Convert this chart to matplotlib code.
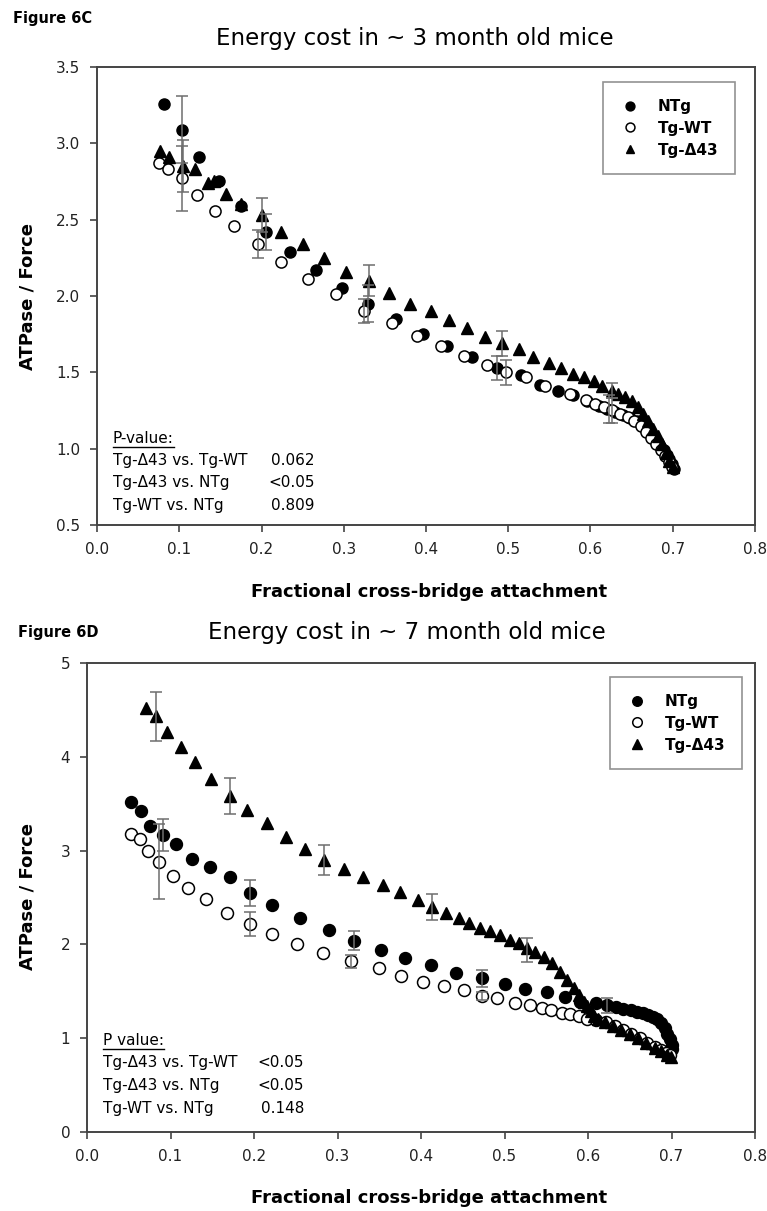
import matplotlib
matplotlib.use("Agg")
import matplotlib.pyplot as plt
from matplotlib.lines import Line2D

plt.rcParams['font.family'] = ['DejaVu Sans']

# ---------------- Figure 6C : ~3 month old mice ----------------
c_ntg_x = [0.082, 0.103, 0.124, 0.148, 0.175, 0.206, 0.235, 0.266, 0.298, 0.330, 0.363, 0.396,
           0.426, 0.456, 0.486, 0.515, 0.539, 0.561, 0.579, 0.596, 0.610, 0.620, 0.630, 0.640,
           0.648, 0.656, 0.663, 0.669, 0.675, 0.680, 0.685, 0.689, 0.693, 0.696, 0.699, 0.701]
c_ntg_y = [3.26, 3.09, 2.91, 2.75, 2.59, 2.42, 2.29, 2.17, 2.05, 1.95, 1.85, 1.75,
           1.67, 1.60, 1.53, 1.48, 1.42, 1.38, 1.35, 1.31, 1.28, 1.26, 1.24, 1.22,
           1.20, 1.18, 1.15, 1.12, 1.09, 1.06, 1.02, 0.99, 0.96, 0.93, 0.90, 0.87]

c_wt_x = [0.075, 0.086, 0.103, 0.122, 0.143, 0.166, 0.196, 0.224, 0.256, 0.290, 0.325, 0.359,
          0.389, 0.418, 0.446, 0.474, 0.497, 0.521, 0.545, 0.575, 0.594, 0.605, 0.616, 0.626,
          0.636, 0.645, 0.653, 0.661, 0.668, 0.674, 0.680, 0.686, 0.691, 0.695, 0.699]
c_wt_y = [2.87, 2.83, 2.77, 2.66, 2.56, 2.46, 2.34, 2.22, 2.11, 2.01, 1.90, 1.82,
          1.74, 1.67, 1.61, 1.55, 1.50, 1.47, 1.41, 1.36, 1.32, 1.29, 1.27, 1.25,
          1.23, 1.21, 1.18, 1.15, 1.11, 1.07, 1.03, 0.99, 0.95, 0.91, 0.88]

c_d43_x = [0.076, 0.088, 0.105, 0.119, 0.135, 0.142, 0.157, 0.175, 0.200, 0.224, 0.250, 0.276,
           0.303, 0.331, 0.355, 0.381, 0.406, 0.428, 0.450, 0.472, 0.493, 0.513, 0.530, 0.549,
           0.564, 0.579, 0.592, 0.604, 0.614, 0.626, 0.634, 0.642, 0.650, 0.658, 0.664, 0.670,
           0.676, 0.682, 0.687, 0.692, 0.696, 0.700]
c_d43_y = [2.95, 2.91, 2.85, 2.83, 2.74, 2.75, 2.67, 2.60, 2.53, 2.42, 2.34, 2.25,
           2.16, 2.10, 2.02, 1.95, 1.90, 1.84, 1.79, 1.73, 1.69, 1.65, 1.60, 1.56,
           1.53, 1.49, 1.47, 1.44, 1.41, 1.38, 1.36, 1.34, 1.31, 1.27, 1.23, 1.18,
           1.13, 1.08, 1.03, 0.97, 0.92, 0.88]

# error bars (x, mean, sem)
c_ntg_err_x = [0.103, 0.206, 0.330, 0.486, 0.622]
c_ntg_err_y = [3.09, 2.42, 1.95, 1.53, 1.26]
c_ntg_err = [0.22, 0.12, 0.12, 0.08, 0.09]
c_wt_err_x = [0.103, 0.196, 0.325, 0.497, 0.626]
c_wt_err_y = [2.77, 2.34, 1.90, 1.50, 1.25]
c_wt_err = [0.21, 0.09, 0.08, 0.08, 0.08]
c_d43_err_x = [0.105, 0.200, 0.331, 0.493, 0.626]
c_d43_err_y = [2.85, 2.53, 2.10, 1.69, 1.38]
c_d43_err = [0.17, 0.11, 0.10, 0.08, 0.05]

c_pvals = [("Tg-\u039443 vs. Tg-WT", "0.062"),
           ("Tg-\u039443 vs. NTg", "<0.05"),
           ("Tg-WT vs. NTg", "0.809")]

# ---------------- Figure 6D : ~7 month old mice ----------------
d_ntg_x = [0.053, 0.0645, 0.076, 0.091, 0.107, 0.126, 0.147, 0.171, 0.195, 0.222, 0.255, 0.290,
           0.320, 0.352, 0.381, 0.412, 0.442, 0.473, 0.501, 0.525, 0.551, 0.572, 0.591, 0.609,
           0.623, 0.633, 0.642, 0.651, 0.659, 0.666, 0.672, 0.678, 0.683, 0.688, 0.692, 0.695,
           0.698, 0.700, 0.701]
d_ntg_y = [3.52, 3.42, 3.26, 3.17, 3.07, 2.91, 2.82, 2.72, 2.55, 2.42, 2.28, 2.15,
           2.04, 1.94, 1.86, 1.78, 1.70, 1.64, 1.58, 1.52, 1.49, 1.44, 1.39, 1.38,
           1.35, 1.33, 1.31, 1.30, 1.28, 1.27, 1.25, 1.23, 1.20, 1.16, 1.11, 1.05,
           0.99, 0.93, 0.88]

d_wt_x = [0.053, 0.063, 0.073, 0.086, 0.103, 0.121, 0.143, 0.168, 0.195, 0.222, 0.252, 0.283,
          0.316, 0.350, 0.376, 0.402, 0.428, 0.452, 0.473, 0.491, 0.513, 0.531, 0.545, 0.556,
          0.569, 0.578, 0.589, 0.599, 0.609, 0.621, 0.632, 0.642, 0.652, 0.662, 0.671, 0.680,
          0.688, 0.694, 0.698]
d_wt_y = [3.18, 3.12, 3.00, 2.88, 2.73, 2.60, 2.48, 2.33, 2.22, 2.11, 2.00, 1.91,
          1.82, 1.75, 1.66, 1.60, 1.56, 1.51, 1.45, 1.43, 1.38, 1.35, 1.32, 1.30,
          1.27, 1.26, 1.24, 1.21, 1.19, 1.17, 1.13, 1.09, 1.05, 1.00, 0.95, 0.91,
          0.87, 0.84, 0.82]

d_d43_x = [0.0705, 0.083, 0.096, 0.113, 0.129, 0.149, 0.171, 0.192, 0.215, 0.238, 0.261, 0.284,
           0.308, 0.330, 0.354, 0.375, 0.396, 0.413, 0.430, 0.446, 0.458, 0.471, 0.483, 0.495,
           0.507, 0.517, 0.527, 0.537, 0.547, 0.557, 0.567, 0.575, 0.583, 0.589, 0.595, 0.599,
           0.603, 0.607, 0.612, 0.620, 0.630, 0.640, 0.650, 0.660, 0.670, 0.680, 0.688, 0.695,
           0.699]
d_d43_y = [4.52, 4.43, 4.26, 4.10, 3.94, 3.76, 3.58, 3.43, 3.29, 3.15, 3.02, 2.90,
           2.80, 2.72, 2.63, 2.56, 2.47, 2.40, 2.34, 2.28, 2.23, 2.18, 2.14, 2.10,
           2.05, 2.01, 1.96, 1.92, 1.87, 1.80, 1.71, 1.62, 1.53, 1.46, 1.39, 1.34,
           1.29, 1.24, 1.20, 1.17, 1.13, 1.09, 1.05, 1.00, 0.95, 0.90, 0.86, 0.82,
           0.80]

d_ntg_err_x = [0.091, 0.195, 0.320, 0.473, 0.623]
d_ntg_err_y = [3.17, 2.55, 2.04, 1.64, 1.35]
d_ntg_err = [0.17, 0.14, 0.10, 0.09, 0.08]
d_wt_err_x = [0.086, 0.195, 0.316, 0.473]
d_wt_err_y = [2.88, 2.22, 1.82, 1.45]
d_wt_err = [0.40, 0.13, 0.07, 0.04]
d_d43_err_x = [0.083, 0.171, 0.284, 0.413, 0.527]
d_d43_err_y = [4.43, 3.58, 2.90, 2.40, 1.94]
d_d43_err = [0.26, 0.19, 0.16, 0.14, 0.13]

d_pvals = [("Tg-\u039443 vs. Tg-WT", "<0.05"),
           ("Tg-\u039443 vs. NTg", "<0.05"),
           ("Tg-WT vs. NTg", "0.148")]

x_ticks = [0.0, 0.1, 0.2, 0.3, 0.4, 0.5, 0.6, 0.7, 0.8]
c_y_ticks = [0.5, 1.0, 1.5, 2.0, 2.5, 3.0, 3.5]
d_y_ticks = [0, 1, 2, 3, 4, 5]

labels = ["NTg", "Tg-WT", "Tg-\u039443"]

W, H = 767, 1211
fig = plt.figure(figsize=(W / 100, H / 100), dpi=100)
fig.patch.set_facecolor('white')

spine_col = '#444444'
err_col = '#6e6e6e'


def panel(ax, ntg, wt, d43, errs, yticks, yfmt, pvals, ptitle, pxy, leg_anchor, ms):
    h1, = ax.plot(ntg[0], ntg[1], 'o', color='black', ms=ms, mec='black', zorder=3)
    h2, = ax.plot(wt[0], wt[1], 'o', mfc='white', mec='black', mew=1.1, ms=ms, zorder=3)
    h3, = ax.plot(d43[0], d43[1], '^', color='black', ms=ms, zorder=3)
    for ex, ey, ee in errs:
        ax.errorbar(ex, ey, yerr=ee, fmt='none', ecolor=err_col, elinewidth=1.1,
                    capsize=4.5, capthick=1.1, zorder=4)
    ax.set_xlim(0, 0.8)
    ax.set_ylim(yticks[0], yticks[-1])
    ax.set_xticks(x_ticks)
    ax.set_xticklabels(["%.1f" % v for v in x_ticks])
    ax.set_yticks(yticks)
    ax.set_yticklabels([yfmt % v for v in yticks])
    for s in ax.spines.values():
        s.set_color(spine_col)
        s.set_linewidth(1.4)
    ax.tick_params(direction='out', length=5, width=1.2, color=spine_col,
                   labelsize=11, labelcolor='#222222', pad=7)
    leg = ax.legend([h1, h2, h3], labels, loc='upper right', bbox_to_anchor=leg_anchor,
                    frameon=True, fancybox=False, edgecolor='#777777',
                    prop={'weight': 'bold', 'size': 11}, borderpad=1.1, labelspacing=0.45,
                    handlelength=1.4, handletextpad=1.1, borderaxespad=0, markerscale=0.8)
    leg.get_frame().set_linewidth(1.2)
    px, py, pvx = pxy
    t = ax.text(px, py[0], ptitle, transform=ax.transAxes, fontsize=11, va='center', ha='left')
    for (lab, val), yy in zip(pvals, py[1:]):
        ax.text(px, yy, lab, transform=ax.transAxes, fontsize=11, va='center', ha='left')
        ax.text(pvx, yy, val, transform=ax.transAxes, fontsize=11, va='center', ha='right')
    return t


ax1 = fig.add_axes([97 / W, 1 - 525 / H, 658 / W, 458 / H])
t1 = panel(ax1, (c_ntg_x, c_ntg_y), (c_wt_x, c_wt_y), (c_d43_x, c_d43_y),
           [(c_ntg_err_x, c_ntg_err_y, c_ntg_err), (c_wt_err_x, c_wt_err_y, c_wt_err),
            (c_d43_err_x, c_d43_err_y, c_d43_err)],
           c_y_ticks, "%.1f", c_pvals, "P-value:",
           (0.024, [0.189, 0.141, 0.093, 0.043], 0.331), (0.970, 0.967), 8.0)

ax2 = fig.add_axes([87 / W, 1 - 1132 / H, 668 / W, 469 / H])
t2 = panel(ax2, (d_ntg_x, d_ntg_y), (d_wt_x, d_wt_y), (d_d43_x, d_d43_y),
           [(d_ntg_err_x, d_ntg_err_y, d_ntg_err), (d_wt_err_x, d_wt_err_y, d_wt_err),
            (d_d43_err_x, d_d43_err_y, d_d43_err)],
           d_y_ticks, "%d", d_pvals, "P value:",
           (0.024, [0.196, 0.149, 0.100, 0.051], 0.325), (0.9805, 0.970), 8.6)

# figure texts
fig.text(13 / W, 1 - 18 / H, "Figure 6C", fontsize=10.5, fontweight='bold', ha='left', va='center')
fig.text(415 / W, 1 - 38 / H, "Energy cost in ~ 3 month old mice", fontsize=16.5, ha='center', va='center')
fig.text(429 / W, 1 - 592 / H, "Fractional cross-bridge attachment", fontsize=13, fontweight='bold',
         ha='center', va='center')
fig.text(28 / W, 1 - 296 / H, "ATPase / Force", fontsize=13, fontweight='bold', rotation=90,
         ha='center', va='center')

fig.text(18 / W, 1 - 632 / H, "Figure 6D", fontsize=10.5, fontweight='bold', ha='left', va='center')
fig.text(407 / W, 1 - 632 / H, "Energy cost in ~ 7 month old mice", fontsize=16.5, ha='center', va='center')
fig.text(429 / W, 1 - 1198 / H, "Fractional cross-bridge attachment", fontsize=13, fontweight='bold',
         ha='center', va='center')
fig.text(28 / W, 1 - 897 / H, "ATPase / Force", fontsize=13, fontweight='bold', rotation=90,
         ha='center', va='center')

# underline the P-value headers
fig.canvas.draw()
r = fig.canvas.get_renderer()
for t in (t1, t2):
    bb = t.get_window_extent(r)
    yline = bb.y0 - 1
    fig.add_artist(Line2D([bb.x0 / W, bb.x1 / W], [yline / H, yline / H],
                          transform=fig.transFigure, color='black', lw=1.0))

fig.savefig('out.png', dpi=100)
